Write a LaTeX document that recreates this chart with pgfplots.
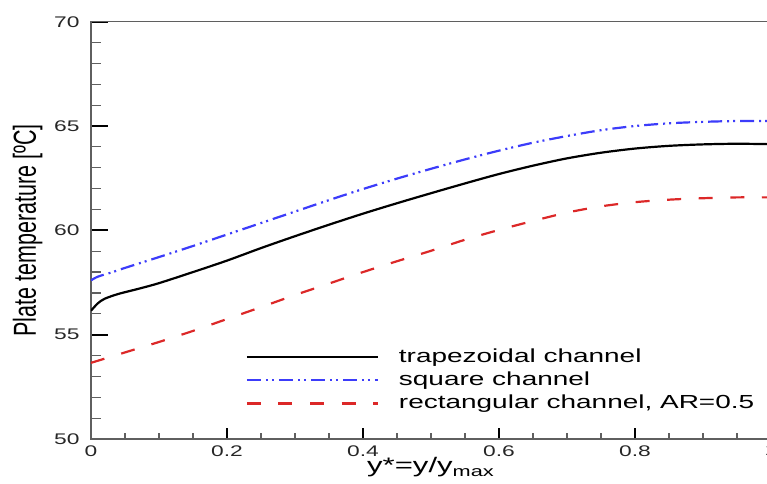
\documentclass[border=0pt]{standalone}
\usepackage{fontspec}
\setmainfont{Liberation Sans}[FakeStretch=1.48]
\newfontfamily\plainsans{Liberation Sans}
\usepackage{pgfplots}
\pgfplotsset{compat=1.18}
\definecolor{lineblue}{RGB}{60,60,250}
\definecolor{linered}{RGB}{220,40,40}
\definecolor{spine}{RGB}{95,95,95}

\begin{document}
\begin{tikzpicture}
\begin{axis}[
  at={(45.5pt,22pt)}, anchor=south west,
  scale only axis, width=340pt, height=208.65pt,
  xmin=0, xmax=1, ymin=50, ymax=70,
  xtick={0,0.2,0.4,0.6,0.8,1},
  xticklabels={0,0.2,0.4,0.6,0.8,1},
  ytick={50,55,60,65,70},
  minor x tick num=3, minor y tick num=4,
  tick pos=left, tick align=inside,
  axis line style={spine, line width=0.8pt},
  major tick style={black, line width=0.9pt},
  minor tick style={spine, line width=0.6pt},
  xtick style={/pgfplots/major tick length=5.5pt, /pgfplots/minor tick length=3pt},
  ytick style={/pgfplots/major tick length=8.5pt, /pgfplots/minor tick length=5pt},
  /pgf/number format/assume math mode=true,
  ticklabel style={font=\fontsize{7.7}{9}\selectfont, inner sep=0pt, text=black!85},
  xticklabel style={yshift=-3pt},
  yticklabel style={xshift=-5.5pt},
  xlabel={y*=y/y\textsubscript{max}},
  xlabel style={at={([yshift=-17pt]axis description cs:0.5,0)}, anchor=base, inner sep=0pt, font=\fontsize{10.5}{12}\selectfont},
  ylabel={\scalebox{1}[1.48]{\plainsans\fontsize{10.75}{12}\selectfont Plate temperature [ºC]}},
  ylabel style={at={([xshift=-24pt]axis description cs:0,0.5)}, anchor=south, inner sep=0pt},
  legend cell align=left,
  legend style={at={(axis description cs:0.227,0.2188)}, anchor=north west, draw=none, fill=none,
    inner sep=0pt, row sep=2.6pt, column sep=10pt, font=\fontsize{9.45}{11}\selectfont,
    nodes={inner sep=0pt, text height=7pt, text depth=2pt}},
  legend image code/.code={\draw[#1] (0pt,0pt) -- (65.5pt,0pt);},
]
\addplot[black, line width=1.1pt, smooth] coordinates {
  (0,56.15) (0.01,56.5) (0.02,56.72) (0.04,56.95) (0.07,57.2) (0.1,57.47)
  (0.15,58.0) (0.2,58.55) (0.25,59.15) (0.3,59.72) (0.35,60.27) (0.4,60.8)
  (0.45,61.3) (0.5,61.78) (0.55,62.25) (0.6,62.7) (0.65,63.1) (0.7,63.45)
  (0.75,63.72) (0.8,63.92) (0.85,64.05) (0.9,64.12) (0.95,64.15) (1.0,64.13)
};
\addlegendentry{trapezoidal channel}
\addplot[lineblue, line width=1.1pt, smooth, dash pattern=on 7pt off 2.5pt on 1pt off 2pt on 1pt off 2.5pt] coordinates {
  (0,57.6) (0.01,57.78) (0.03,57.98) (0.05,58.2) (0.1,58.72) (0.15,59.25)
  (0.2,59.8) (0.25,60.35) (0.3,60.9) (0.35,61.45) (0.4,61.98) (0.45,62.48)
  (0.5,62.95) (0.55,63.4) (0.6,63.82) (0.65,64.2) (0.7,64.52) (0.75,64.8)
  (0.8,65.0) (0.85,65.13) (0.9,65.2) (0.95,65.24) (1.0,65.24)
};
\addlegendentry{square channel}
\addplot[linered, line width=1.1pt, smooth, dash pattern=on 7pt off 8.8pt] coordinates {
  (0,53.65) (0.02,53.85) (0.05,54.15) (0.1,54.65) (0.15,55.18) (0.2,55.75)
  (0.25,56.32) (0.3,56.9) (0.35,57.45) (0.4,58.0) (0.45,58.52) (0.5,59.02)
  (0.55,59.55) (0.6,60.02) (0.65,60.45) (0.7,60.85) (0.75,61.15) (0.8,61.35)
  (0.85,61.47) (0.9,61.54) (0.95,61.58) (1.0,61.58)
};
\addlegendentry{rectangular channel, AR=0.5}
\end{axis}
\pgfresetboundingbox
\useasboundingbox (0,0) rectangle (383.5pt,241.5pt);
\end{tikzpicture}
\end{document}
